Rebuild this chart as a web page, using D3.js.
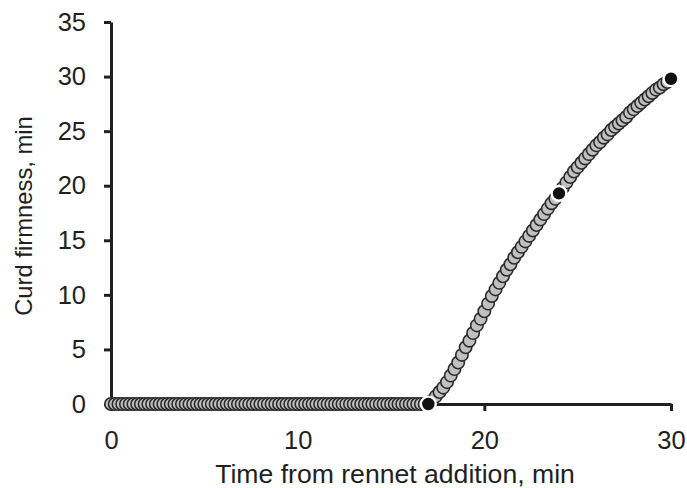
<!DOCTYPE html>
<html>
<head>
<meta charset="utf-8">
<script src="https://cdn.jsdelivr.net/npm/d3@7"></script>
<style>
  html, body { margin: 0; padding: 0; background: #fff; }
  svg { display: block; }
  text { font-family: "Liberation Sans", Arial, sans-serif; fill: #231f20; }
</style>
</head>
<body>
<svg id="chart" width="687" height="488"></svg>
<script>
// ---- data ----
const xTicks = [0, 10, 20, 30];
const yTicks = [0, 5, 10, 15, 20, 25, 30, 35];
const xTitle = "Time from rennet addition, min";
const yTitle = "Curd firmness, min";

// measured curve, one reading every 0.2 min
const times = [
  0,0.2,0.4,0.6,0.8,1,1.2,1.4,1.6,1.8,2,2.2,2.4,2.6,2.8,3,3.2,3.4,3.6,3.8,
  4,4.2,4.4,4.6,4.8,5,5.2,5.4,5.6,5.8,6,6.2,6.4,6.6,6.8,7,7.2,7.4,7.6,7.8,
  8,8.2,8.4,8.6,8.8,9,9.2,9.4,9.6,9.8,10,10.2,10.4,10.6,10.8,11,11.2,11.4,11.6,11.8,
  12,12.2,12.4,12.6,12.8,13,13.2,13.4,13.6,13.8,14,14.2,14.4,14.6,14.8,15,15.2,15.4,15.6,15.8,
  16,16.2,16.4,16.6,16.8,17,17.2,17.4,17.6,17.8,18,18.2,18.4,18.6,18.8,19,19.2,19.4,19.6,19.8,
  20,20.2,20.4,20.6,20.8,21,21.2,21.4,21.6,21.8,22,22.2,22.4,22.6,22.8,23,23.2,23.4,23.6,23.8,
  24,24.2,24.4,24.6,24.8,25,25.2,25.4,25.6,25.8,26,26.2,26.4,26.6,26.8,27,27.2,27.4,27.6,27.8,
  28,28.2,28.4,28.6,28.8,29,29.2,29.4,29.6,29.8,30
];
const firmness = [
  0,0,0,0,0,0,0,0,0,0,0,0,0,0,0,0,0,0,0,0,
  0,0,0,0,0,0,0,0,0,0,0,0,0,0,0,0,0,0,0,0,
  0,0,0,0,0,0,0,0,0,0,0,0,0,0,0,0,0,0,0,0,
  0,0,0,0,0,0,0,0,0,0,0,0,0,0,0,0,0,0,0,0,
  0,0,0,0,0,0,0.3,0.7,1.1,1.5,2.0,2.6,3.2,3.8,4.5,5.2,5.8,6.5,7.2,7.8,
  8.5,9.2,9.9,10.5,11.1,11.7,12.3,12.8,13.4,13.9,14.4,14.9,15.4,15.9,16.4,16.9,17.4,17.9,18.4,18.8,
  19.3,19.8,20.3,20.8,21.3,21.7,22.1,22.5,22.9,23.3,23.7,24.0,24.4,24.7,25.1,25.4,25.7,26.0,26.3,26.7,
  27.0,27.3,27.6,27.9,28.2,28.5,28.8,29.0,29.3,29.5,29.8
];
// highlighted readings
const keyTimes = [17, 24, 30];
const keyFirmness = [0, 19.3, 29.8];

// ---- chart ----
const svg = d3.select("#chart");
const x = d3.scaleLinear().domain([0, 30]).range([111, 671]);
const y = d3.scaleLinear().domain([0, 35]).range([404, 22]);

const axisColor = "#231f20";

// x axis
const gx = svg.append("g").attr("transform", `translate(0,${y(0)})`)
  .call(d3.axisBottom(x).tickValues(xTicks).tickSize(7).tickSizeOuter(0).tickPadding(20));
gx.select(".domain").attr("stroke", axisColor).attr("stroke-width", 3);
gx.selectAll(".tick line").attr("stroke", axisColor).attr("stroke-width", 3);
gx.selectAll(".tick text").attr("font-size", 25.5).attr("fill", axisColor)
  .attr("font-family", "Liberation Sans, Arial, sans-serif");

// y axis
const gy = svg.append("g").attr("transform", `translate(${x(0)},0)`)
  .call(d3.axisLeft(y).tickValues(yTicks).tickSize(7).tickSizeOuter(0).tickPadding(18));
gy.select(".domain").attr("stroke", axisColor).attr("stroke-width", 3);
gy.selectAll(".tick line").attr("stroke", axisColor).attr("stroke-width", 3);
gy.selectAll(".tick text").attr("font-size", 25.5).attr("fill", axisColor)
  .attr("font-family", "Liberation Sans, Arial, sans-serif");

// titles
svg.append("text").attr("x", 395).attr("y", 483).attr("text-anchor", "middle")
  .attr("font-size", 26.6).text(xTitle);
svg.append("text").attr("transform", `translate(32,216) rotate(-90)`)
  .attr("text-anchor", "middle").attr("font-size", 23.8).text(yTitle);

// series
const pts = times.map((t, i) => ({ t, v: firmness[i] }));
svg.append("g").selectAll("circle").data(pts).join("circle")
  .attr("cx", d => x(d.t)).attr("cy", d => y(d.v)).attr("r", 6.2)
  .attr("fill", "#c0c0c0").attr("stroke", "#2b2b2b").attr("stroke-width", 1.6);

const keys = keyTimes.map((t, i) => ({ t, v: keyFirmness[i] }));
svg.append("g").selectAll("circle").data(keys).join("circle")
  .attr("cx", d => x(d.t)).attr("cy", d => y(d.v)).attr("r", 7.4)
  .attr("fill", "#111").attr("stroke", "#fff").attr("stroke-width", 2.4);
</script>
</body>
</html>
